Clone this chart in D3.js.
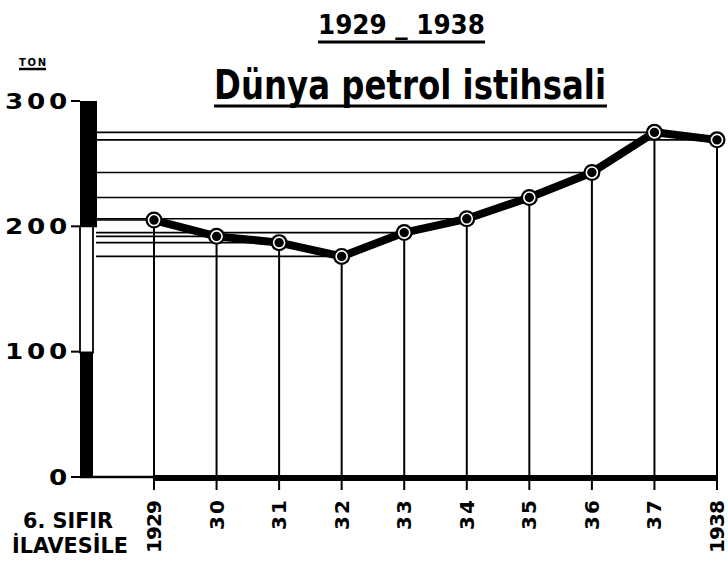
<!DOCTYPE html>
<html>
<head>
<meta charset="utf-8">
<script src="https://cdn.jsdelivr.net/npm/d3@7/dist/d3.min.js"></script>
<style>
  html, body { margin: 0; padding: 0; background: #fff; }
  svg { display: block; }
  text { fill: #000; }
</style>
</head>
<body>
<svg id="chart" width="728" height="562"></svg>
<script>
// ---- data ----
const years = ["1929", "30", "31", "32", "33", "34", "35", "36", "37", "1938"];
const production = [205, 192, 187, 176, 195, 206, 223, 243, 275, 269]; // million tons
const yTicks = [0, 100, 200, 300];
const yTickLabels = ["0", "100", "200", "300"];
const titleTop = "1929 _ 1938";
const titleMain = "Dünya petrol istihsali";
const unitLabel = "TON";
const noteLines = ["6. SIFIR", "İLAVESİLE"];

const data = years.map((y, i) => ({ year: y, value: production[i] }));

const svg = d3.select("#chart");
const W = 728, H = 562;
svg.append("rect").attr("width", W).attr("height", H).attr("fill", "#fff");

const x = d3.scalePoint().domain(years).range([154, 717]);
const y = d3.scaleLinear().domain([0, 300]).range([477, 101]);

const boldFont = "'DejaVu Sans', sans-serif";
const condFont = "'DejaVu Sans Condensed', 'Liberation Sans Narrow', 'DejaVu Sans', sans-serif";

// ---- titles ----
svg.append("text")
  .attr("x", 318).attr("y", 34)
  .attr("font-family", condFont).attr("font-weight", "bold")
  .attr("font-size", 27)
  .attr("textLength", 167).attr("lengthAdjust", "spacingAndGlyphs")
  .text(titleTop);
svg.append("line").attr("x1", 318).attr("x2", 485).attr("y1", 42).attr("y2", 42)
  .attr("stroke", "#000").attr("stroke-width", 3);

svg.append("text")
  .attr("x", 214).attr("y", 99)
  .attr("font-family", boldFont).attr("font-weight", "bold")
  .attr("font-size", 40)
  .attr("textLength", 392).attr("lengthAdjust", "spacingAndGlyphs")
  .text(titleMain);
svg.append("line").attr("x1", 214).attr("x2", 607).attr("y1", 106).attr("y2", 106)
  .attr("stroke", "#000").attr("stroke-width", 3);

// unit label
svg.append("text")
  .attr("x", 19).attr("y", 66)
  .attr("font-family", boldFont).attr("font-weight", "bold")
  .attr("font-size", 10)
  .attr("textLength", 27).attr("lengthAdjust", "spacing")
  .text(unitLabel);
svg.append("line").attr("x1", 19).attr("x2", 46).attr("y1", 69).attr("y2", 69)
  .attr("stroke", "#000").attr("stroke-width", 2.5);

// ---- horizontal reference lines from axis to each point ----
svg.append("g").selectAll("line").data(data).join("line")
  .attr("x1", 96).attr("x2", d => x(d.year))
  .attr("y1", d => y(d.value)).attr("y2", d => y(d.value))
  .attr("stroke", "#000").attr("stroke-width", 1.6);

// ---- vertical drop lines ----
svg.append("g").selectAll("line").data(data).join("line")
  .attr("x1", d => x(d.year)).attr("x2", d => x(d.year))
  .attr("y1", d => y(d.value)).attr("y2", y(0) + 13)
  .attr("stroke", "#000").attr("stroke-width", 2);

// ---- baseline ----
svg.append("line")
  .attr("x1", 80).attr("x2", x(years[0]))
  .attr("y1", y(0)).attr("y2", y(0))
  .attr("stroke", "#000").attr("stroke-width", 2.5);
svg.append("line")
  .attr("x1", x(years[0])).attr("x2", x(years[years.length - 1]))
  .attr("y1", y(0) + 1).attr("y2", y(0) + 1)
  .attr("stroke", "#000").attr("stroke-width", 6);

// ---- y axis bar (alternating segments) ----
const segs = [
  { from: 200, to: 300, fill: "#000", w: 17 },
  { from: 100, to: 200, fill: "#fff", w: 13 },
  { from: 0, to: 100, fill: "#000", w: 13 }
];
svg.append("g").selectAll("rect").data(segs).join("rect")
  .attr("x", 80).attr("width", d => d.w)
  .attr("y", d => y(d.to)).attr("height", d => y(d.from) - y(d.to) + 1)
  .attr("fill", d => d.fill)
  .attr("stroke", "#000").attr("stroke-width", d => d.fill === "#fff" ? 1.8 : 0);

// y ticks + labels (wide geometric digits: horizontally stretched)
const yAxisG = svg.append("g");
yAxisG.selectAll("line").data(yTicks).join("line")
  .attr("x1", 71).attr("x2", 80)
  .attr("y1", d => y(d)).attr("y2", d => y(d))
  .attr("stroke", "#000").attr("stroke-width", 2);
yAxisG.selectAll("text").data(yTicks).join("text")
  .attr("transform", d => `translate(71,${y(d) + 7.5}) scale(1.25,1)`)
  .attr("text-anchor", "end")
  .attr("font-family", boldFont).attr("font-weight", "bold")
  .attr("font-size", 21)
  .attr("letter-spacing", 3)
  .text((d, i) => yTickLabels[i]);

// ---- production line ----
svg.append("path").datum(data)
  .attr("d", d3.line().x(d => x(d.year)).y(d => y(d.value)))
  .attr("fill", "none").attr("stroke", "#000")
  .attr("stroke-width", 8).attr("stroke-linejoin", "round");

// markers
const mk = svg.append("g").selectAll("g").data(data).join("g")
  .attr("transform", d => `translate(${x(d.year)},${y(d.value)})`);
mk.append("circle").attr("r", 8.5).attr("fill", "#000");
mk.append("circle").attr("r", 5.5).attr("fill", "none")
  .attr("stroke", "#fff").attr("stroke-width", 1.6);

// ---- x labels (rotated) ----
svg.append("g").selectAll("text").data(years).join("text")
  .attr("transform", d => `translate(${x(d)},${500}) rotate(-90)`)
  .attr("text-anchor", "end")
  .attr("dominant-baseline", "central")
  .attr("font-family", boldFont).attr("font-weight", "bold")
  .attr("font-size", 20)
  .attr("textLength", d => d.length > 2 ? 53 : 30)
  .attr("lengthAdjust", "spacing")
  .text(d => d);

// ---- note ----
svg.append("text")
  .attr("x", 23).attr("y", 528)
  .attr("font-family", condFont).attr("font-weight", "bold")
  .attr("font-size", 22)
  .attr("textLength", 90).attr("lengthAdjust", "spacingAndGlyphs")
  .text(noteLines[0]);
svg.append("text")
  .attr("x", 12).attr("y", 553)
  .attr("font-family", condFont).attr("font-weight", "bold")
  .attr("font-size", 22)
  .attr("textLength", 116).attr("lengthAdjust", "spacingAndGlyphs")
  .text(noteLines[1]);
</script>
</body>
</html>
